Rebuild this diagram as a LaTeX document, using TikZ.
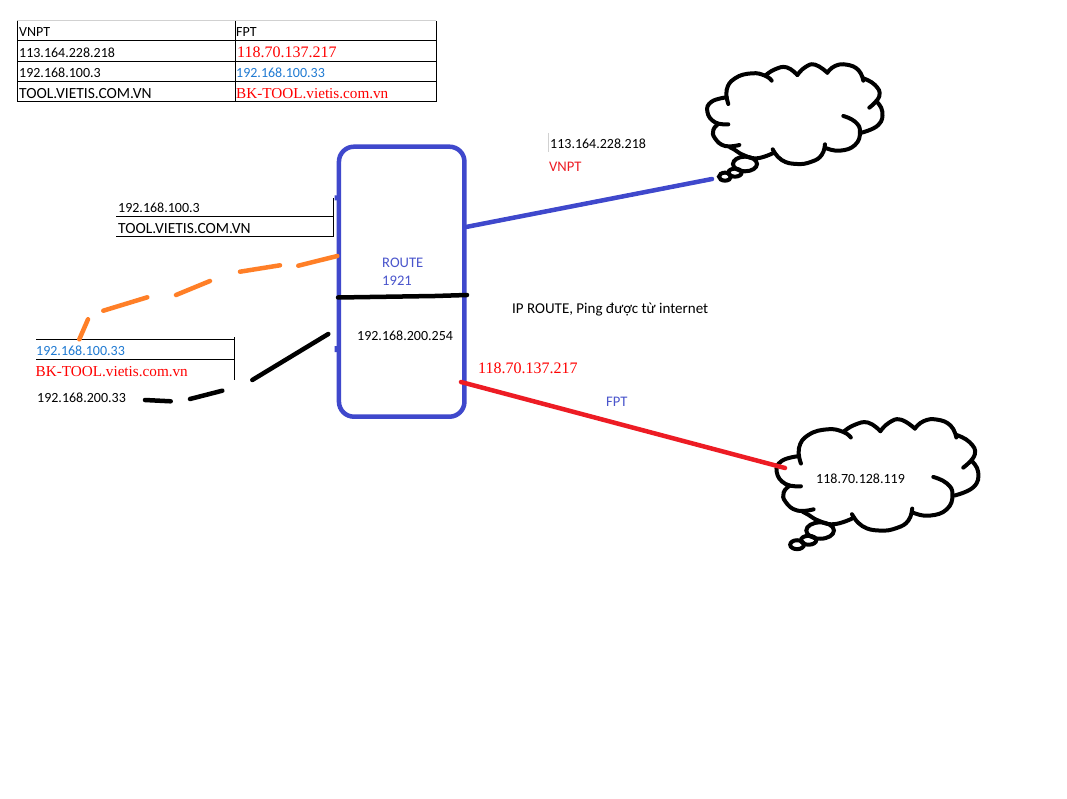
\documentclass[tikz,border=0pt]{standalone}
\usepackage{fontspec}
\setmainfont{Carlito}
\newfontfamily\timesf{Liberation Serif}
\definecolor{pblue}{HTML}{3F48CC}
\definecolor{pred}{HTML}{ED1C24}
\definecolor{porange}{HTML}{FF7F27}
\definecolor{xblue}{HTML}{1F7AD2}
\definecolor{xred}{HTML}{FF0000}
\definecolor{lblue}{HTML}{4A55CC}
\tikzset{
  lbl/.style={anchor=base west,inner sep=0pt,font=\fontsize{14}{14}\selectfont,text=black},
  lblwide/.style={lbl,font=\fontsize{15.5}{15}\selectfont},
  lbltext/.style={lbl,font=\fontsize{15}{15}\selectfont},
  lblblue/.style={lbl,text=xblue},
  lblroute/.style={lbl,font=\fontsize{14.6}{15}\selectfont,text=lblue},
  lblred/.style={lbl,font=\fontsize{14.6}{15}\selectfont,text=pred},
  lbltimes/.style={anchor=base west,inner sep=0pt,font=\timesf\fontsize{16}{16}\selectfont,text=xred},
  lbltimesw/.style={lbltimes,font=\timesf\fontsize{15.2}{16}\selectfont},
  rule/.style={draw=black,line width=1pt},
  faint/.style={draw=black!18,line width=1pt},
  routerbox/.style={draw=pblue,line width=4.5pt,rounded corners=15pt,minimum width=125.5pt,minimum height=270pt,inner sep=0pt},
  link/.style={line width=4.5pt,line cap=round},
  cloudline/.style={draw=black,line width=4pt,line cap=round},
}
\newcommand{\cloudstrokes}{%
  \draw[cloudline] plot[smooth,tension=0.8] coordinates {(245,62)(225,47)(185,40)(135,55)(110,90)(115,132)};
  \draw[cloudline] plot[smooth,tension=0.8] coordinates {(228,45)(255,28)(290,22)(322,45)};
  \draw[cloudline] plot[smooth,tension=0.8] coordinates {(322,45)(345,22)(375,14)(412,38)};
  \draw[cloudline] plot[smooth,tension=0.8] coordinates {(412,38)(435,18)(470,14)(505,30)(520,62)};
  \draw[cloudline] plot[smooth,tension=0.8] coordinates {(520,55)(555,75)(568,108)(538,143)};
  \draw[cloudline] plot[smooth,tension=0.8] coordinates {(560,125)(577,155)(565,195)(515,218)};
  \draw[cloudline] plot[smooth,tension=0.8] coordinates {(460,168)(495,185)(510,215)(495,255)(450,272)(410,265)};
  \draw[cloudline] plot[smooth,tension=0.8] coordinates {(405,253)(395,285)(365,305)(320,312)(275,300)(248,268)};
  \draw[cloudline] plot[smooth,tension=0.8] coordinates {(248,280)(200,295)(160,285)(135,270)(120,262)};
  \draw[cloudline] plot[smooth,tension=0.8] coordinates {(148,255)(105,258)(75,235)(70,210)(85,192)};
  \draw[cloudline] plot[smooth,tension=0.8] coordinates {(115,193)(75,187)(52,155)(65,125)(110,112)};
  \draw[cloudline] (165,312) ellipse (36 and 22);
  \draw[cloudline] (135,338) ellipse (20 and 12);
  \draw[cloudline] (105,350) ellipse (18 and 12);
}
\begin{document}
\begin{tikzpicture}[x=1pt,y=-1pt]
\useasboundingbox (0,0) rectangle (1067,799);
\fill[white] (0,0) rectangle (1067,799);
% clouds
\begin{scope}[shift={(690,60)},x=0.3333pt,y=-0.3333pt]
  \cloudstrokes
\end{scope}
\begin{scope}[shift={(756.8,414.4)},x=0.3837pt,y=-0.3723pt]
  \cloudstrokes
\end{scope}
% top table
\draw[faint] (17,21) -- (436,21);
\draw[rule] (17,21) -- (17,102) (17,41) -- (436,41) (17,62) -- (436,62) (17,82) -- (436,82) (17,102) -- (436,102);
\draw[rule] (235,21) -- (235,102) (436,21) -- (436,102);
\node[lbl] (t1) at (19,36.5) {VNPT};
\node[lbl] (t2) at (236,36.5) {FPT};
\node[lbl] (t3) at (19,57.7) {113.164.228.218};
\node[lbltimes] (t4) at (237,58) {118.70.137.217};
\node[lbl] (t5) at (19,77.7) {192.168.100.3};
\node[lblblue] (t6) at (236,77.7) {192.168.100.33};
\node[lblwide] (t7) at (19,98.5) {TOOL.VIETIS.COM.VN};
\node[lbltimesw] (t8) at (236,98.5) {BK-TOOL.vietis.com.vn};
% left label tables
\draw[rule] (333,198) -- (333,237) (116,217) -- (334,217) (116,237) -- (334,237);
\node[lbl] (a1) at (118,212.7) {192.168.100.3};
\node[lblwide] (a2) at (118,233.5) {TOOL.VIETIS.COM.VN};
\draw[rule] (36,339) -- (234,339) (36,359) -- (234,359) (234,337) -- (234,380);
\node[lblblue] (b1) at (36,355.5) {192.168.100.33};
\node[lbltimesw] (b2) at (35.5,376) {BK-TOOL.vietis.com.vn};
\node[lbl] (b3) at (37,402.5) {192.168.200.33};
% router
\node[routerbox] (router) at (401.7,281.7) {};
\fill[pblue] (334.5,195.5) rectangle (338,200.5) (334.5,346) rectangle (338,352);
\node[lblroute] (r1) at (382,267.5) {ROUTE};
\node[lblroute] (r2) at (382,285.5) {1921};
\node[lbl] (r3) at (357,340.5) {192.168.200.254};
% black bar
\coordinate (bar1) at (338,297.5);
\coordinate (bar2) at (370,297);
\coordinate (bar3) at (435,296);
\coordinate (bar4) at (467,295);
\draw[link,draw=black] (bar1) -- (bar2) -- (bar3) -- (bar4);
% wan links
\coordinate (vnptend) at (712,179);
\coordinate (vnptstart) at (466,227);
\draw[link,draw=pblue] (vnptstart) -- (vnptend);
\coordinate (fptstart) at (461,382);
\coordinate (fptend) at (785,468);
\draw[link,draw=pred] (fptstart) -- (fptend);
% orange dashes
\coordinate (o1) at (79.3,339.3); \coordinate (o2) at (88,319.3);
\coordinate (o3) at (103.3,310.7); \coordinate (o4) at (147.3,297.3);
\coordinate (o5) at (176,295); \coordinate (o6) at (210,281);
\coordinate (o7) at (240,271.7); \coordinate (o8) at (280,265.3);
\coordinate (o9) at (298.3,265.7); \coordinate (o10) at (337.3,256);
\draw[link,draw=porange] (o1) -- (o2) (o3) -- (o4) (o5) -- (o6) (o7) -- (o8) (o9) -- (o10);
% black dashes
\coordinate (k1) at (328.3,334); \coordinate (k2) at (252.3,380);
\coordinate (k3) at (222.3,390.7); \coordinate (k4) at (190,399);
\coordinate (k5) at (170.7,401.3); \coordinate (k6) at (145,400);
\draw[link,draw=black] (k1) -- (k2) (k3) -- (k4) (k5) -- (k6);
% other labels
\draw[faint] (548,133) -- (548,152);
\node[lbl] (n1) at (550,148.5) {113.164.228.218};
\node[lblred] (n2) at (549,171.5) {VNPT};
\node[lbltext] (n3) at (512,313.5) {IP ROUTE, Ping được từ internet};
\node[lbltimes] (n4) at (478,373) {118.70.137.217};
\node[lblroute] (n5) at (606,406.5) {FPT};
\node[lbl] (n6) at (816,483.5) {118.70.128.119};
\end{tikzpicture}
\end{document}
